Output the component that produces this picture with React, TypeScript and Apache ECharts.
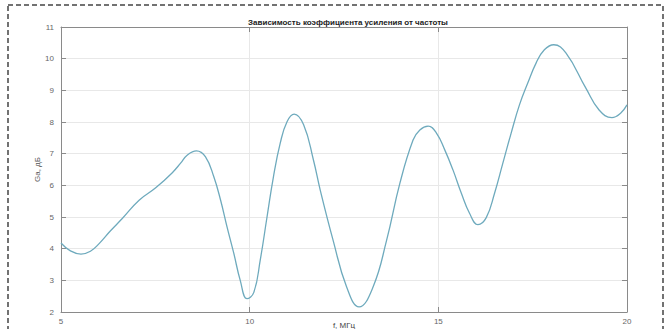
import React, { useEffect, useRef } from "react";
import * as echarts from "echarts";

const titleText = "Зависимость коэффициента усиления от частоты";
const xName = "f, МГц";
const yName = "Ga, дБ";

const freq = [5, 5.25, 5.53, 5.78, 6.01, 6.3, 6.63, 7.07, 7.51, 7.95, 8.17, 8.35, 8.59, 8.83, 9.05, 9.23, 9.4, 9.58, 9.75, 9.93, 10.11, 10.28, 10.46, 10.63, 10.81, 10.99, 11.18, 11.43, 11.69, 11.87, 12.21, 12.57, 12.9, 13.27, 13.63, 13.98, 14.33, 14.51, 14.73, 14.95, 15.17, 15.39, 15.61, 15.83, 16.05, 16.27, 16.49, 16.71, 16.93, 17.15, 17.37, 17.59, 17.81, 18.06, 18.38, 18.91, 19.26, 19.6, 19.83, 20];
const gain = [4.18, 3.93, 3.83, 3.92, 4.16, 4.55, 4.96, 5.53, 5.92, 6.4, 6.7, 6.96, 7.09, 6.9, 6.27, 5.53, 4.69, 3.85, 3.0, 2.42, 2.62, 3.64, 5.0, 6.27, 7.33, 8.01, 8.25, 7.91, 6.8, 5.85, 4.27, 2.79, 2.16, 2.79, 4.27, 6.06, 7.43, 7.75, 7.87, 7.65, 7.12, 6.48, 5.75, 5.11, 4.76, 4.98, 5.75, 6.7, 7.65, 8.54, 9.23, 9.86, 10.28, 10.44, 10.18, 9.07, 8.38, 8.14, 8.28, 8.54];

export default function App() {
  const ref = useRef<HTMLDivElement>(null);
  useEffect(() => {
    if (!ref.current) return;
    const chart = echarts.init(ref.current, null, { renderer: "svg" });
    const axisLine = { show: true, lineStyle: { color: "#8a8a8a", width: 1 } };
    const tick = { show: true, inside: true, length: 5, lineStyle: { color: "#8a8a8a" } };
    const label = { color: "#666", fontSize: 8, fontFamily: "Liberation Sans" };
    chart.setOption({
      animation: false,
      backgroundColor: "#fff",
      title: {
        text: titleText,
        left: 343,
        textAlign: "center",
        top: 13,
        textStyle: { fontSize: 8, fontWeight: "bold", color: "#222", fontFamily: "Liberation Sans" },
      },
      graphic: [
        {
          type: "rect",
          shape: { x: 8, y: 5, width: 655, height: 340 },
          style: { fill: "none", stroke: "#444", lineWidth: 1.5, lineDash: [5, 3] },
          silent: true,
        },
      ],
      grid: { left: 61, right: 42, top: 27, bottom: 17, outerBoundsMode: "none", containLabel: false },
      xAxis: [
        {
          type: "value",
          min: 5,
          max: 20,
          interval: 5,
          name: xName,
          nameLocation: "middle",
          nameGap: 9,
          nameMoveOverlap: false,
          nameTextStyle: { fontSize: 8, color: "#444", fontFamily: "Liberation Sans" },
          axisLine,
          axisTick: tick,
          axisLabel: { ...label, margin: 5 },
          splitLine: { show: true, lineStyle: { color: "#e8e8e8" } },
        },
        {
          type: "value",
          position: "top",
          min: 5,
          max: 20,
          interval: 5,
          axisLine,
          axisTick: tick,
          axisLabel: { show: false },
          splitLine: { show: false },
        },
      ],
      yAxis: [
        {
          type: "value",
          min: 2,
          max: 11,
          interval: 1,
          name: yName,
          nameLocation: "middle",
          nameGap: 20,
          nameMoveOverlap: false,
          nameTextStyle: { fontSize: 8, color: "#555", fontFamily: "Liberation Sans" },
          axisLine,
          axisTick: tick,
          axisLabel: { ...label, margin: 7 },
          splitLine: { show: true, lineStyle: { color: "#e8e8e8" } },
        },
        {
          type: "value",
          position: "right",
          min: 2,
          max: 11,
          interval: 1,
          axisLine,
          axisTick: tick,
          axisLabel: { show: false },
          splitLine: { show: false },
        },
      ],
      series: [
        {
          type: "line",
          data: freq.map((f, i) => [f, gain[i]]),
          smooth: 0.45,
          showSymbol: false,
          lineStyle: { color: "#6eaabd", width: 1.3 },
        },
      ],
    });
    return () => chart.dispose();
  }, []);
  return (
    <div
      ref={ref}
      style={{ position: "fixed", left: 0, top: 0, width: 669, height: 329, background: "#fff" }}
    />
  );
}
